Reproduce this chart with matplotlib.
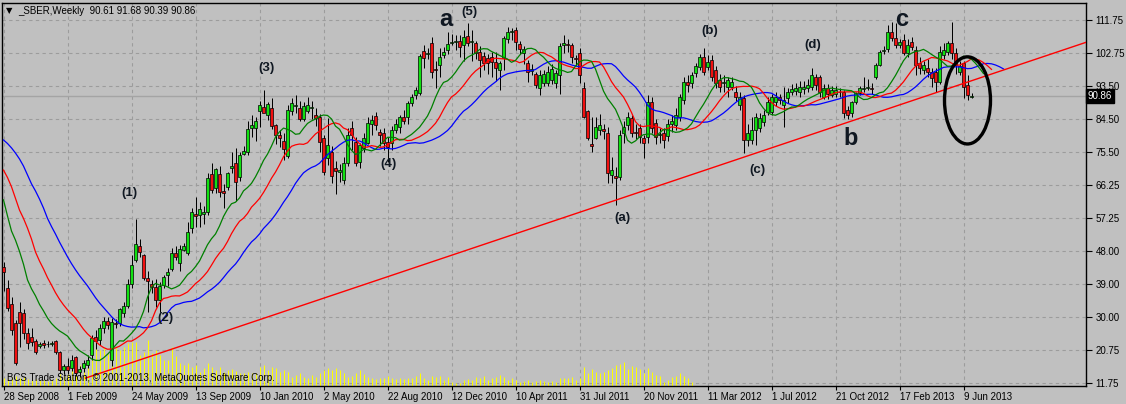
import numpy as np
import matplotlib.pyplot as plt
from matplotlib.patches import Ellipse
from matplotlib.transforms import blended_transform_factory

plt.rcParams['font.family'] = ['Liberation Sans', 'DejaVu Sans']

# _SBER weekly bars, 28 Sep 2008 .. 23 Jun 2013
opens = [43.7, 38.0, 33.5, 28.3, 31.3, 31.0, 25.5, 24.4, 23.3, 22.0,
         22.8, 22.4, 22.6, 23.3, 20.3, 15.3, 16.4, 16.0, 18.9, 14.8,
         15.9, 16.7, 19.5, 24.4, 23.6, 26.9, 28.8, 18.1, 28.2, 28.3,
         31.0, 33.0, 39.0, 45.6, 49.5, 47.0, 40.7, 39.0, 38.2, 34.6,
         38.8, 41.5, 43.2, 47.6, 44.8, 48.4, 47.6, 54.5, 58.2, 58.0,
         58.3, 58.9, 69.3, 65.5, 69.3, 64.6, 65.8, 71.0, 72.4, 68.5,
         74.9, 75.4, 82.0, 81.9, 86.8, 87.8, 85.6, 87.5, 82.8, 80.1,
         78.4, 74.3, 86.7, 88.1, 87.5, 84.5, 86.7, 87.6, 85.6, 85.0,
         79.2, 73.7, 75.4, 70.9, 70.0, 67.7, 72.4, 82.0, 78.1, 72.6,
         76.5, 78.0, 83.0, 85.3, 80.9, 80.6, 78.1, 77.9, 81.4, 82.3,
         85.0, 85.0, 88.9, 91.0, 91.6, 103.2, 102.5, 105.4, 98.2, 99.4,
         102.0, 103.5, 105.5, 105.8, 106.0, 104.9, 107.3, 105.8, 105.4, 103.0,
         101.8, 101.3, 101.6, 100.2, 98.0, 101.3, 106.5, 108.4, 109.0, 105.1,
         102.6, 99.9, 97.6, 96.9, 93.0, 94.5, 94.5, 95.2, 94.4, 96.6,
         104.8, 105.2, 104.9, 101.3, 102.7, 93.0, 86.7, 77.6, 79.2, 81.4,
         81.6, 80.6, 69.0, 68.7, 68.5, 80.6, 82.8, 84.8, 80.9, 82.0,
         79.2, 79.5, 89.2, 83.4, 80.0, 80.6, 79.8, 83.0, 82.8, 85.0,
         89.7, 94.7, 94.4, 97.1, 98.8, 101.6, 98.8, 100.7, 98.0, 95.2,
         94.5, 93.3, 93.3, 91.9, 88.3, 90.2, 78.7, 78.7, 81.4, 82.0,
         83.7, 86.4, 86.4, 89.2, 90.5, 88.3, 90.2, 91.9, 92.2, 91.9,
         92.8, 93.0, 93.3, 96.0, 96.0, 90.5, 93.0, 91.2, 91.4, 92.0,
         91.9, 87.0, 86.1, 89.2, 91.6, 92.8, 93.1, 93.0, 96.0, 99.4,
         103.3, 103.8, 108.4, 106.8, 104.9, 106.3, 102.7, 105.7, 103.5, 99.9,
         98.0, 98.5, 97.4, 97.4, 94.7, 102.0, 102.9, 105.4, 102.7, 97.5,
         99.9, 93.8, 90.61]
highs = [45.0, 40.0, 35.5, 29.0, 34.1, 32.0, 27.0, 27.0, 23.8, 23.0,
         23.5, 23.2, 23.4, 23.6, 20.5, 17.0, 18.5, 19.5, 19.2, 16.5,
         18.0, 19.5, 25.0, 26.3, 28.0, 30.0, 30.0, 29.6, 29.5, 32.5,
         34.0, 40.5, 47.0, 56.9, 51.5, 47.2, 42.5, 40.2, 40.5, 39.5,
         41.5, 43.5, 49.0, 49.5, 49.7, 50.2, 56.2, 60.0, 63.0, 61.5,
         60.5, 69.5, 72.4, 71.0, 71.5, 66.5, 69.8, 75.5, 76.5, 75.3,
         77.0, 84.0, 85.5, 85.0, 89.5, 92.5, 89.2, 90.3, 83.0, 81.5,
         80.5, 88.4, 90.3, 91.2, 89.5, 89.2, 90.5, 89.5, 87.5, 85.8,
         80.2, 84.7, 77.0, 73.0, 72.0, 74.0, 82.0, 84.0, 79.5, 78.0,
         80.5, 85.0, 85.5, 86.5, 81.8, 82.0, 79.5, 82.5, 84.5, 85.5,
         87.0, 89.5, 91.5, 93.3, 102.5, 105.0, 104.0, 107.0, 100.5, 104.0,
         104.2, 108.4, 108.0, 107.5, 107.5, 109.0, 110.9, 109.0, 106.0, 104.5,
         103.0, 102.5, 103.0, 103.0, 100.5, 107.3, 109.7, 109.5, 109.8, 106.0,
         104.5, 100.7, 99.5, 97.5, 98.0, 98.0, 99.0, 99.5, 98.0, 105.5,
         107.6, 106.5, 105.5, 102.0, 104.0, 94.7, 87.0, 85.0, 85.0, 85.8,
         83.0, 82.3, 74.0, 71.2, 81.4, 84.0, 86.5, 85.5, 83.0, 83.0,
         80.0, 91.0, 90.5, 84.5, 82.0, 82.0, 84.5, 85.5, 87.5, 91.5,
         96.0, 96.5, 97.5, 100.0, 102.5, 104.0, 102.0, 102.0, 99.0, 97.0,
         96.5, 96.0, 96.0, 93.5, 92.0, 91.1, 83.0, 85.0, 86.0, 86.0,
         87.0, 90.5, 91.5, 92.0, 91.5, 93.3, 93.0, 94.0, 94.5, 95.0,
         95.0, 95.5, 98.5, 97.0, 96.5, 94.0, 94.0, 93.5, 93.5, 93.0,
         92.5, 88.0, 89.5, 92.0, 93.5, 96.0, 95.5, 94.5, 99.8, 103.5,
         104.5, 110.4, 111.2, 111.0, 106.5, 108.0, 106.5, 107.0, 104.5, 101.5,
         100.5, 101.0, 98.5, 98.5, 104.5, 105.5, 106.0, 111.2, 104.0, 100.5,
         100.5, 96.6, 91.68]
lows = [37.0, 31.5, 25.0, 16.8, 21.7, 24.0, 21.0, 22.0, 19.8, 21.3,
        21.5, 21.6, 22.0, 19.8, 14.5, 14.2, 14.3, 15.0, 13.7, 13.4,
        14.8, 16.0, 18.0, 21.0, 22.2, 25.5, 26.5, 16.5, 27.0, 27.5,
        30.0, 32.5, 38.0, 45.0, 46.5, 40.0, 31.3, 36.5, 32.7, 31.3,
        38.0, 38.5, 42.5, 45.5, 42.5, 48.0, 47.0, 53.0, 54.7, 54.7,
        55.5, 58.0, 64.0, 64.0, 63.0, 60.0, 65.0, 69.5, 62.0, 67.5,
        74.5, 74.5, 79.5, 78.5, 82.3, 86.5, 84.3, 81.8, 77.5, 76.7,
        73.2, 73.6, 85.5, 86.0, 84.0, 83.8, 86.0, 84.5, 82.5, 75.4,
        69.0, 71.8, 66.8, 63.8, 67.0, 66.5, 71.5, 76.0, 71.5, 71.0,
        75.5, 77.5, 80.0, 81.5, 77.0, 76.0, 72.6, 76.0, 80.5, 80.5,
        83.0, 83.0, 88.0, 90.0, 91.0, 98.5, 101.0, 95.8, 93.0, 96.0,
        101.3, 102.5, 104.8, 103.5, 101.5, 100.5, 104.5, 100.5, 101.0, 96.0,
        98.0, 97.0, 96.0, 95.0, 92.5, 98.0, 105.5, 106.3, 103.5, 102.5,
        99.5, 94.7, 96.5, 93.0, 91.1, 93.5, 93.5, 94.0, 93.0, 91.5,
        102.7, 103.0, 100.0, 99.0, 94.4, 84.7, 78.7, 75.4, 79.0, 80.0,
        79.0, 66.8, 66.8, 60.8, 67.7, 78.0, 81.5, 79.5, 79.0, 78.0,
        73.7, 78.0, 80.5, 77.5, 78.0, 76.5, 78.5, 81.0, 81.5, 84.0,
        88.5, 92.0, 93.0, 96.0, 98.0, 96.5, 98.0, 95.0, 93.0, 92.0,
        92.0, 90.5, 92.5, 89.5, 87.0, 75.1, 77.0, 77.5, 77.3, 81.0,
        82.5, 85.5, 85.5, 88.0, 88.5, 82.3, 89.0, 91.0, 91.0, 90.5,
        91.5, 92.0, 92.5, 92.5, 90.5, 90.0, 90.0, 90.5, 90.5, 90.5,
        84.8, 84.5, 85.0, 88.5, 91.0, 92.0, 92.5, 91.5, 95.5, 99.0,
        102.5, 103.0, 106.0, 104.0, 104.0, 102.0, 101.5, 103.5, 96.5, 97.0,
        97.0, 96.0, 93.3, 92.0, 94.0, 101.0, 102.0, 101.0, 97.0, 96.5,
        90.3, 89.7, 90.39]
closes = [42.3, 32.5, 26.4, 17.3, 28.3, 25.5, 22.8, 23.0, 20.3, 22.4,
          22.2, 22.6, 22.9, 20.3, 15.3, 16.4, 15.3, 18.1, 14.5, 15.6,
          17.3, 18.0, 24.1, 23.3, 26.9, 28.8, 27.7, 28.6, 28.0, 32.1,
          33.0, 39.0, 44.3, 50.0, 47.8, 40.7, 39.9, 38.2, 34.6, 38.5,
          41.0, 42.3, 47.6, 46.5, 48.7, 49.5, 53.4, 58.9, 57.8, 59.7,
          58.9, 68.2, 64.9, 70.7, 64.4, 64.1, 69.6, 71.4, 67.1, 74.6,
          75.7, 81.7, 82.9, 83.9, 88.4, 86.1, 88.6, 82.5, 80.1, 79.3,
          76.2, 86.9, 88.9, 88.4, 84.5, 88.1, 88.3, 87.9, 84.8, 78.1,
          69.9, 77.3, 68.8, 70.1, 70.5, 72.4, 80.1, 80.1, 72.4, 77.3,
          79.2, 83.4, 84.3, 82.8, 80.1, 77.9, 76.8, 81.4, 83.0, 85.0,
          84.0, 88.9, 90.5, 92.5, 101.8, 101.3, 102.7, 97.4, 97.9, 101.6,
          102.9, 105.1, 105.8, 106.1, 104.3, 107.0, 105.4, 106.1, 102.7, 100.7,
          99.9, 99.9, 100.2, 98.5, 99.9, 106.8, 108.4, 108.8, 105.7, 103.8,
          103.7, 97.4, 98.2, 93.8, 96.6, 96.9, 97.4, 98.3, 97.2, 104.6,
          105.3, 104.9, 101.6, 100.9, 96.6, 85.0, 79.2, 77.0, 82.3, 82.8,
          81.2, 69.6, 70.4, 68.3, 80.1, 82.3, 85.0, 80.6, 80.7, 79.5,
          77.9, 89.2, 82.0, 79.5, 80.3, 78.7, 83.1, 83.9, 85.6, 90.5,
          94.7, 93.8, 96.6, 99.1, 101.6, 97.4, 100.2, 96.0, 94.4, 93.3,
          94.7, 95.2, 94.7, 90.5, 90.5, 78.7, 80.6, 81.4, 85.0, 84.8,
          85.6, 89.2, 90.5, 90.5, 89.7, 89.7, 91.9, 92.8, 93.0, 93.3,
          93.2, 93.8, 96.6, 93.8, 91.9, 93.0, 91.5, 92.6, 92.5, 91.9,
          86.1, 85.6, 89.2, 91.6, 93.0, 93.1, 93.3, 92.8, 99.4, 102.9,
          103.6, 108.4, 106.8, 104.9, 105.7, 102.7, 105.0, 104.3, 99.4, 98.5,
          99.4, 97.4, 95.8, 94.7, 102.9, 103.5, 105.4, 102.7, 99.4, 99.0,
          93.3, 91.1, 90.86]

# volume histogram (only present up to Mar 2012), arbitrary units
volumes = [8, 7, 9, 10, 8, 9, 7, 6, 7, 6, 6, 5, 6, 8, 12, 10, 12, 30, 29, 21,
           23, 28, 46, 43, 36, 38, 32, 36, 38, 36, 39, 43, 44, 44, 31, 34, 46, 33, 36, 31,
           26, 26, 39, 30, 23, 21, 23, 19, 21, 14, 18, 23, 19, 16, 19, 14, 16, 17, 15, 13,
           13, 14, 13, 13, 19, 21, 16, 19, 18, 14, 16, 14, 9, 11, 13, 9, 8, 11, 9, 13,
           16, 18, 16, 18, 16, 13, 9, 10, 13, 16, 12, 9, 8, 7, 8, 8, 10, 8, 7, 8,
           7, 8, 8, 10, 13, 8, 6, 10, 9, 10, 6, 9, 4, 3, 3, 6, 7, 6, 9, 8,
           10, 6, 8, 9, 11, 9, 6, 8, 6, 4, 5, 6, 4, 5, 6, 5, 4, 5, 4, 8,
           8, 8, 9, 6, 8, 19, 13, 17, 14, 13, 14, 16, 18, 21, 22, 24, 17, 20, 19, 17,
           13, 18, 14, 11, 10, 4, 6, 9, 10, 13, 10, 8, 4]

# median price of the 7 weeks before the first bar, and alligator values at the left edge
pre_median = [66, 62, 58, 54, 48, 40, 37]
jaw_start, teeth_start, lips_start = 78.7, 70.4, 62.2

date_labels = ['28 Sep 2008', '1 Feb 2009', '24 May 2009', '13 Sep 2009', '10 Jan 2010',
               '2 May 2010', '22 Aug 2010', '12 Dec 2010', '10 Apr 2011', '31 Jul 2011',
               '20 Nov 2011', '11 Mar 2012', '1 Jul 2012', '21 Oct 2012', '17 Feb 2013',
               '9 Jun 2013']
price_ticks = [111.75, 102.75, 93.50, 84.50, 75.50, 66.25, 57.25, 48.00, 39.00, 30.00, 20.75, 11.75]

# trend line anchors (bar, price)
trend_a = (20.5, 13.1)
trend_b = (153.0, 62.1)

# wave marks: text, bar, price, size
wave_labels = [('(1)', 31.5, 64.1, 9.5), ('(2)', 40.5, 29.6, 9.5), ('(3)', 65.75, 98.5, 9.5),
               ('(4)', 96.25, 72.1, 9.5), ('(5)', 116.5, 114.0, 9.5), ('a', 110.5, 112.0, 17),
               ('(a)', 154.75, 57.2, 9.5), ('(b)', 176.5, 108.7, 9.5), ('(c)', 188.5, 70.4, 9.5),
               ('(d)', 202.25, 104.9, 9.5), ('b', 211.75, 79.0, 17), ('c', 224.5, 112.0, 17)]

# circle around the last weeks (bar, price, width in bars, height in price)
ring = (241.0, 89.6, 11.5, 24.0)

o = np.array(opens); h = np.array(highs); l = np.array(lows); c = np.array(closes)
n = len(c)
x = np.arange(n)
median = list((h + l) / 2)


def smma(seed, values, period):
    out = [seed]
    for v in values:
        out.append((out[-1] * (period - 1) + v) / period)
    return out


jaw = smma(jaw_start, pre_median + median, 13)          # shift 8
teeth = smma(teeth_start, pre_median[3:] + median, 8)   # shift 5
lips = smma(lips_start, pre_median[5:] + median, 5)     # shift 3

bg = '#c0c0c0'
fig = plt.figure(figsize=(11.26, 4.04), dpi=100, facecolor=bg)
ax = fig.add_axes([2 / 1126, 18 / 404, 1084 / 1126, 383 / 404])
ax.set_facecolor(bg)
# half-pixel offset so one-pixel bars land on whole pixels
ax.set_xlim(-0.375, 270.625)
ax.set_ylim(11.75 - 3 / 3.63, 11.75 + 380 / 3.63)

ax.set_axisbelow(True)
ax.grid(True, color='#9c9c9c', linestyle=(0, (3, 3)), linewidth=0.8)

# volumes in the bottom of the window
vt = blended_transform_factory(ax.transData, ax.transAxes)
vx = np.arange(len(volumes))
ax.vlines(vx, 0, np.array(volumes) / 383.0, colors='#ffff00', linewidth=0.72,
          transform=vt, zorder=1)

# current price line
ax.axhline(c[-1], color='#a4a4a4', linewidth=1, zorder=1)

# candles
up = c >= o
ax.vlines(x, l, h, colors='black', linewidth=0.72, zorder=3)
body_lo = np.minimum(o, c)
body_h = np.maximum(np.abs(c - o), 0.15)
ax.bar(x, body_h, bottom=body_lo, width=0.8,
       color=np.where(up, '#11e011', '#f01010'), edgecolor='black', linewidth=0.5, zorder=4)

# alligator
ax.plot(np.arange(len(jaw)), jaw, color='#0000ff', linewidth=0.9, zorder=5)
ax.plot(np.arange(len(teeth)), teeth, color='#ff0000', linewidth=0.9, zorder=5)
ax.plot(np.arange(len(lips)), lips, color='#008000', linewidth=0.9, zorder=5)

# trend line
slope = (trend_b[1] - trend_a[1]) / (trend_b[0] - trend_a[0])
x_end = 270.625
ax.plot([trend_a[0], x_end], [trend_a[1], trend_a[1] + slope * (x_end - trend_a[0])],
        color='#ff0000', linewidth=1, zorder=6)

ax.add_patch(Ellipse(ring[:2], ring[2], ring[3], fill=False, edgecolor='black', linewidth=2.4, zorder=7))

for txt, bx, py, fs in wave_labels:
    ax.text(bx, py, txt, ha='center', va='center', fontsize=fs, fontweight='bold',
            color='#101822', zorder=8)

# axes
ax.set_xticks(np.arange(0, n, 16))
ax.set_xticklabels(date_labels)
for t in ax.get_xticklabels():
    t.set_ha('left')
ax.yaxis.tick_right()
ax.set_yticks(price_ticks)
ax.set_yticklabels([f'{p:.2f}' for p in price_ticks])
ax.tick_params(axis='x', length=3, pad=1, labelsize=7, colors='black')
ax.tick_params(axis='y', length=4, pad=3, labelsize=7, colors='black')
for s in ax.spines.values():
    s.set_color('black')
    s.set_linewidth(1)

ax.text(1.0016, c[-1], f'{c[-1]:.2f}', transform=blended_transform_factory(ax.transAxes, ax.transData),
        ha='left', va='center', fontsize=7, color='white',
        bbox=dict(facecolor='black', edgecolor='black', boxstyle='square,pad=0.2'))

fig.text(6 / 1126, 1 - 11 / 404, '▼', fontsize=6, va='center', family=['DejaVu Sans'])
fig.text(18 / 1126, 1 - 11 / 404,
         f'_SBER,Weekly  {o[-1]:.2f} {h[-1]:.2f} {l[-1]:.2f} {c[-1]:.2f}',
         fontsize=7, va='center')
fig.text(7 / 1126, 1 - 378 / 404, 'BCS Trade Station, © 2001-2013, MetaQuotes Software Corp.',
         fontsize=7, va='center')

fig.savefig('out.png', dpi=100, facecolor=bg)
